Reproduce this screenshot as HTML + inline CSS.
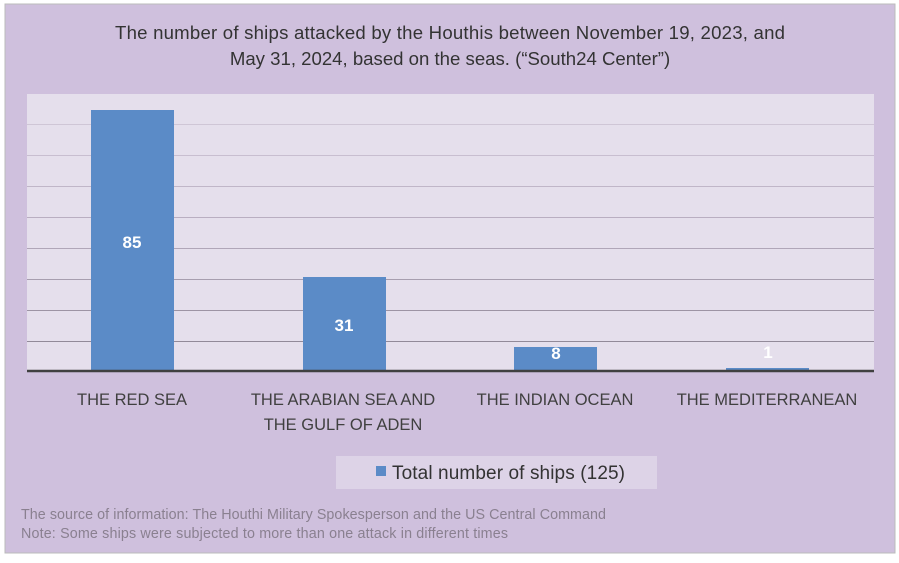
<!DOCTYPE html><html><head><style>
body{margin:0;width:899px;height:558px;background:#fff;font-family:"Liberation Sans",sans-serif;}
</style></head><body>
<svg width="899" height="558" xmlns="http://www.w3.org/2000/svg" style="font-family:'Liberation Sans',sans-serif">
<rect x="5" y="4" width="890" height="549" fill="#cfc0dd" stroke="#bbb" stroke-width="1"/>
<text x="450" y="39" text-anchor="middle" font-size="18.6" fill="#333" textLength="670">The number of ships attacked by the Houthis between November 19, 2023, and</text>
<text x="450" y="65" text-anchor="middle" font-size="18.6" fill="#333">May 31, 2024, based on the seas. (“South24 Center”)</text>
<rect x="27" y="94" width="847" height="277" fill="#e5dfec"/>
<g stroke-width="1">
<line x1="27" x2="874" y1="124.5" y2="124.5" stroke="#cfc6d6"/>
<line x1="27" x2="874" y1="155.5" y2="155.5" stroke="#c8bed0"/>
<line x1="27" x2="874" y1="186.5" y2="186.5" stroke="#c0b6c8"/>
<line x1="27" x2="874" y1="217.5" y2="217.5" stroke="#b9aec1"/>
<line x1="27" x2="874" y1="248.5" y2="248.5" stroke="#b0a6b8"/>
<line x1="27" x2="874" y1="279.5" y2="279.5" stroke="#a79eaf"/>
<line x1="27" x2="874" y1="310.5" y2="310.5" stroke="#9d94a4"/>
<line x1="27" x2="874" y1="341.5" y2="341.5" stroke="#928a99"/>
</g>
<g fill="#5b8bc7">
<rect x="91" y="110" width="83" height="261"/>
<rect x="303" y="277" width="83" height="94"/>
<rect x="514" y="347" width="83" height="24"/>
<rect x="726" y="368" width="83" height="3"/>
</g>
<line x1="27" x2="874" y1="371" y2="371" stroke="#404040" stroke-width="2.5"/>
<g fill="#fff" font-weight="bold" font-size="17" text-anchor="middle">
<text x="132" y="248">85</text><text x="344" y="331">31</text><text x="556" y="359">8</text><text x="768" y="358">1</text>
</g>
<g fill="#404040" font-size="16.5" text-anchor="middle">
<text x="132" y="405">THE RED SEA</text>
<text x="343" y="405">THE ARABIAN SEA AND</text>
<text x="343" y="430">THE GULF OF ADEN</text>
<text x="555" y="405">THE INDIAN OCEAN</text>
<text x="767" y="405">THE MEDITERRANEAN</text>
</g>
<rect x="336" y="456" width="321" height="33" fill="#ddd3e7"/>
<rect x="376" y="466" width="10" height="10" fill="#5b8bc7"/>
<text x="392" y="479" font-size="19" fill="#333" textLength="233">Total number of ships (125)</text>
<text x="21" y="519" font-size="14.3" fill="#8a8090" textLength="585">The source of information: The Houthi Military Spokesperson and the US Central Command</text>
<text x="21" y="538" font-size="14.3" fill="#8a8090" textLength="487">Note: Some ships were subjected to more than one attack in different times</text>
</svg>
</body></html>
